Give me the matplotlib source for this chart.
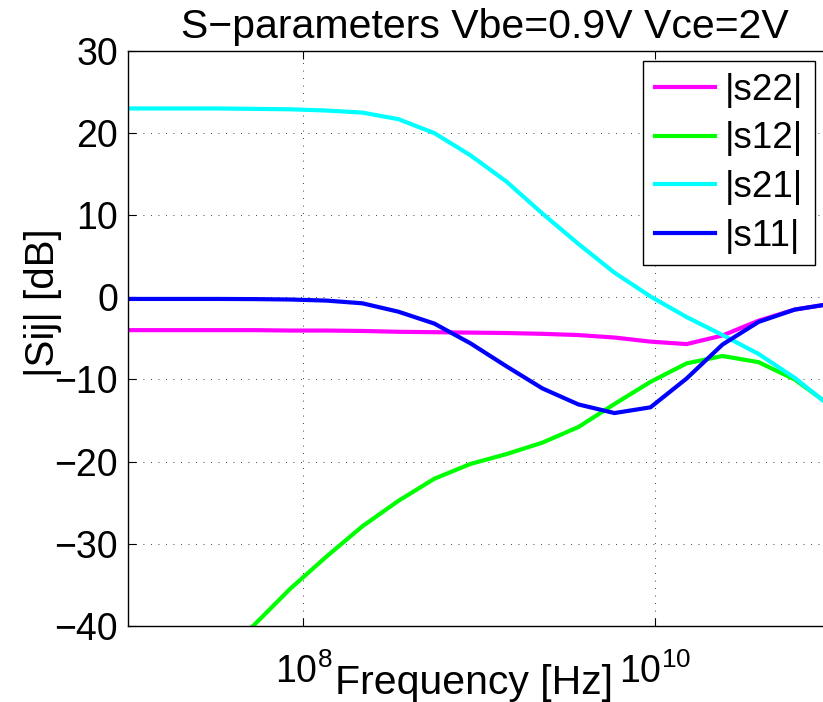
import matplotlib
matplotlib.use("Agg")
import matplotlib.pyplot as plt
from matplotlib.ticker import FixedLocator, FixedFormatter, NullLocator

plt.rcParams['font.family'] = ['Liberation Sans', 'DejaVu Sans']
plt.rcParams['mathtext.fontset'] = 'custom'
plt.rcParams['mathtext.rm'] = 'Liberation Sans'
plt.rcParams['mathtext.it'] = 'Liberation Sans'

# Frequency points (Hz)
freq_hz = [7.94e6, 1.274e7, 2.042e7, 3.273e7, 5.248e7, 8.414e7, 1.349e8, 2.163e8,
           3.467e8, 5.559e8, 8.913e8, 1.429e9, 2.291e9, 3.673e9, 5.888e9, 9.441e9,
           1.514e10, 2.427e10, 3.890e10, 6.237e10, 1.0e11]

s22_db = [-4.0, -4.0, -4.0, -4.0, -4.0, -4.05, -4.05, -4.1, -4.2, -4.25, -4.3, -4.35,
          -4.45, -4.6, -4.9, -5.4, -5.7, -4.65, -2.85, -1.5, -0.8]
s12_db = [-56.5, -52.5, -48.0, -44.0, -39.9, -35.5, -31.6, -27.9, -24.8, -22.1, -20.3,
          -19.1, -17.7, -15.8, -13.0, -10.3, -8.05, -7.15, -7.9, -10.0, -13.2]
s21_db = [23.0, 23.0, 23.0, 23.0, 22.95, 22.9, 22.75, 22.5, 21.7, 20.0, 17.3, 14.1,
          10.2, 6.5, 3.0, 0.1, -2.4, -4.6, -6.9, -9.8, -13.3]
s11_db = [-0.2, -0.2, -0.2, -0.2, -0.22, -0.27, -0.4, -0.73, -1.75, -3.2, -5.6, -8.4,
          -11.1, -13.05, -14.1, -13.4, -9.9, -5.75, -3.0, -1.5, -0.8]

series_labels = ['|s22|', '|s12|', '|s21|', '|s11|']
series_colors = ['#FF00FF', '#00FF00', '#00FFFF', '#0000FF']

x_ticks = [1e8, 1e10]
x_ticklabels = [r'$10^{8}$', r'$10^{10}$']
y_ticks = [-40, -30, -20, -10, 0, 10, 20, 30]

W, H = 823, 702
fig = plt.figure(figsize=(W / 100, H / 100), dpi=100)
ax_l, ax_r, ax_t, ax_b = 127.7, 830.6, 51.0, 625.7
ax = fig.add_axes([ax_l / W, 1 - ax_b / H, (ax_r - ax_l) / W, (ax_b - ax_t) / H])

for vals, lab, col in zip([s22_db, s12_db, s21_db, s11_db], series_labels, series_colors):
    ax.plot(freq_hz, vals, color=col, lw=3.0, label=lab, solid_joinstyle='miter')

ax.set_xscale('log')
ax.set_xlim(1e7, 1e11)
ax.set_ylim(-40, 30)
ax.xaxis.set_major_locator(FixedLocator(x_ticks))
ax.xaxis.set_major_formatter(FixedFormatter(x_ticklabels))
ax.xaxis.set_minor_locator(NullLocator())
ax.set_yticks(y_ticks)
ax.set_yticklabels(['\u2212' + str(-v) if v < 0 else str(v) for v in y_ticks])

ax.grid(True, which='major', color='k', lw=0.6, linestyle=(0, (1, 8)))
ax.tick_params(direction='in', length=6, width=0.8, top=True, right=True,
               labelsize=27, colors='k')
ax.tick_params(axis='x', pad=20)
ax.tick_params(axis='y', pad=7)
for s in ax.spines.values():
    s.set_linewidth(1.0)

ax.set_title('S\u2212parameters Vbe=0.9V Vce=2V', fontsize=29.5, pad=9,
             x=(485 - ax_l) / (ax_r - ax_l))
ax.set_xlabel('Frequency [Hz]', fontsize=29.5)
ax.xaxis.set_label_coords((474 - ax_l) / (ax_r - ax_l), (ax_b - 694) / (ax_b - ax_t))
ax.xaxis.label.set_va('baseline')
ax.set_ylabel('|Sij| [dB]', fontsize=29)
ax.yaxis.set_label_coords((42.5 - ax_l) / (ax_r - ax_l), (ax_b - 303) / (ax_b - ax_t))
ax.yaxis.label.set_va('center')

leg = ax.legend(loc='upper right', bbox_to_anchor=(815 / W, 1 - 61 / H),
                bbox_transform=fig.transFigure, borderaxespad=0, fontsize=26.5,
                fancybox=False, framealpha=1, edgecolor='k', handlelength=1.62,
                handletextpad=0.28, labelspacing=0.37, borderpad=0.32)
leg.get_frame().set_linewidth(1.0)

fig.savefig('out.png', dpi=100)
